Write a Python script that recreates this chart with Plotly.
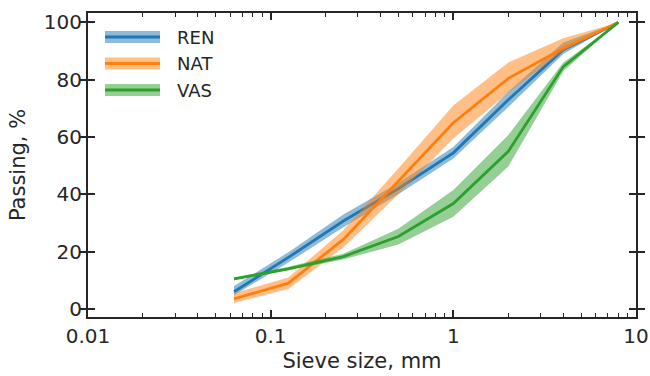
import plotly.graph_objects as go

sieve = [0.063, 0.125, 0.25, 0.5, 1, 2, 4, 8]

ren_mean = [6.0, 18.0, 30.7, 42.0, 54.5, 73.0, 90.5, 100]
ren_low = [4.8, 16.2, 28.5, 40.0, 52.5, 70.5, 89.0, 100]
ren_high = [8.0, 19.8, 33.0, 44.0, 56.5, 75.8, 93.0, 100]

nat_mean = [3.5, 9.0, 24.3, 44.5, 65.0, 80.5, 91.0, 100]
nat_low = [2.1, 7.0, 21.5, 40.0, 59.5, 75.5, 90.0, 100]
nat_high = [5.5, 11.0, 27.5, 49.0, 71.0, 86.0, 94.5, 100]

vas_mean = [10.5, 14.0, 18.3, 25.3, 36.8, 55.0, 84.6, 100]
vas_low = [10.0, 13.5, 17.3, 22.5, 32.2, 49.7, 83.0, 100]
vas_high = [11.0, 14.7, 19.3, 28.0, 41.5, 60.7, 86.0, 100]

labels = ["REN", "NAT", "VAS"]
colors = ["#1f77b4", "#ff7f0e", "#2ca02c"]
fills = ["rgba(31,119,180,0.5)", "rgba(255,127,14,0.5)", "rgba(44,160,44,0.5)"]

x_ticks = [0.01, 0.1, 1, 10]
x_ticktext = ["0.01", "0.1", "1", "10"]
y_ticks = [0, 20, 40, 60, 80, 100]

series = [(ren_mean, ren_low, ren_high), (nat_mean, nat_low, nat_high), (vas_mean, vas_low, vas_high)]

fig = go.Figure()
for (m, lo, hi), name, c, f in zip(series, labels, colors, fills):
    fig.add_trace(go.Scatter(x=sieve + sieve[::-1], y=hi + lo[::-1], fill="toself",
                             fillcolor=f, line=dict(width=0), mode="lines",
                             showlegend=False, hoverinfo="skip"))
    fig.add_trace(go.Scatter(x=sieve, y=m, mode="lines", line=dict(color=c, width=2.8),
                             name=name, showlegend=False))

FW, FH = 650, 376
# target plot area in window pixels
L, R, T, B = 88, 636, 13, 317
W, H = R - L, B - T
def px(x):
    return (x - L) / W
def py(y):
    return (B - y) / H

for i, (name, c, f) in enumerate(zip(labels, colors, fills)):
    yc = 37 + i * 26.5
    fig.add_shape(type="rect", xref="paper", yref="paper", x0=px(105), x1=px(160),
                  y0=py(yc + 6), y1=py(yc - 6), fillcolor=f, line=dict(width=0))
    fig.add_shape(type="line", xref="paper", yref="paper", x0=px(105), x1=px(160),
                  y0=py(yc), y1=py(yc), line=dict(color=c, width=2.8))
    fig.add_annotation(xref="paper", yref="paper", x=px(175), y=py(yc), text=name,
                       showarrow=False, xanchor="left", yanchor="middle",
                       font=dict(size=18, color="#262626"))

axis_common = dict(showline=True, linecolor="#262626", linewidth=2, mirror="allticks",
                   ticks="inside", ticklen=7, tickwidth=1.5, tickcolor="#262626",
                   showgrid=False, zeroline=False, automargin=False,
                   ticklabeloverflow="allow",
                   tickfont=dict(size=20, color="#262626"))
minor = dict(ticks="inside", ticklen=4, tickwidth=1.2, tickcolor="#262626",
             dtick="D1", showgrid=False)

fig.update_xaxes(type="log", range=[-2, 1], tickvals=x_ticks, ticktext=x_ticktext,
                 title=dict(text="Sieve size, mm", font=dict(size=21, color="#262626"), standoff=6),
                 minor=minor, **axis_common)
fig.update_yaxes(range=[-2.8, 103.3], tickvals=y_ticks,
                 title=dict(text="Passing, %", font=dict(size=21, color="#262626"), standoff=12),
                 **axis_common)
# top axis to mirror minor ticks
fig.update_layout(xaxis2=dict(type="log", range=[-2, 1], overlaying="x", side="top",
                              tickvals=x_ticks, showticklabels=False, ticks="inside",
                              ticklen=7, tickwidth=1.5, tickcolor="#262626",
                              showline=False, showgrid=False, zeroline=False,
                              automargin=False, minor=minor))
fig.add_trace(go.Scatter(x=[1], y=[50], xaxis="x2", mode="markers",
                         marker=dict(opacity=0), showlegend=False, hoverinfo="skip"))

fig.update_layout(width=FW, height=FH,
                  margin=dict(l=L, r=FW - R, t=T, b=FH - B),
                  plot_bgcolor="white", paper_bgcolor="white",
                  font=dict(family="DejaVu Sans", color="#262626"))

fig.write_html("out.html", config={"displayModeBar": False},
               post_script="document.body.style.margin='0';document.body.style.overflow='hidden';")
